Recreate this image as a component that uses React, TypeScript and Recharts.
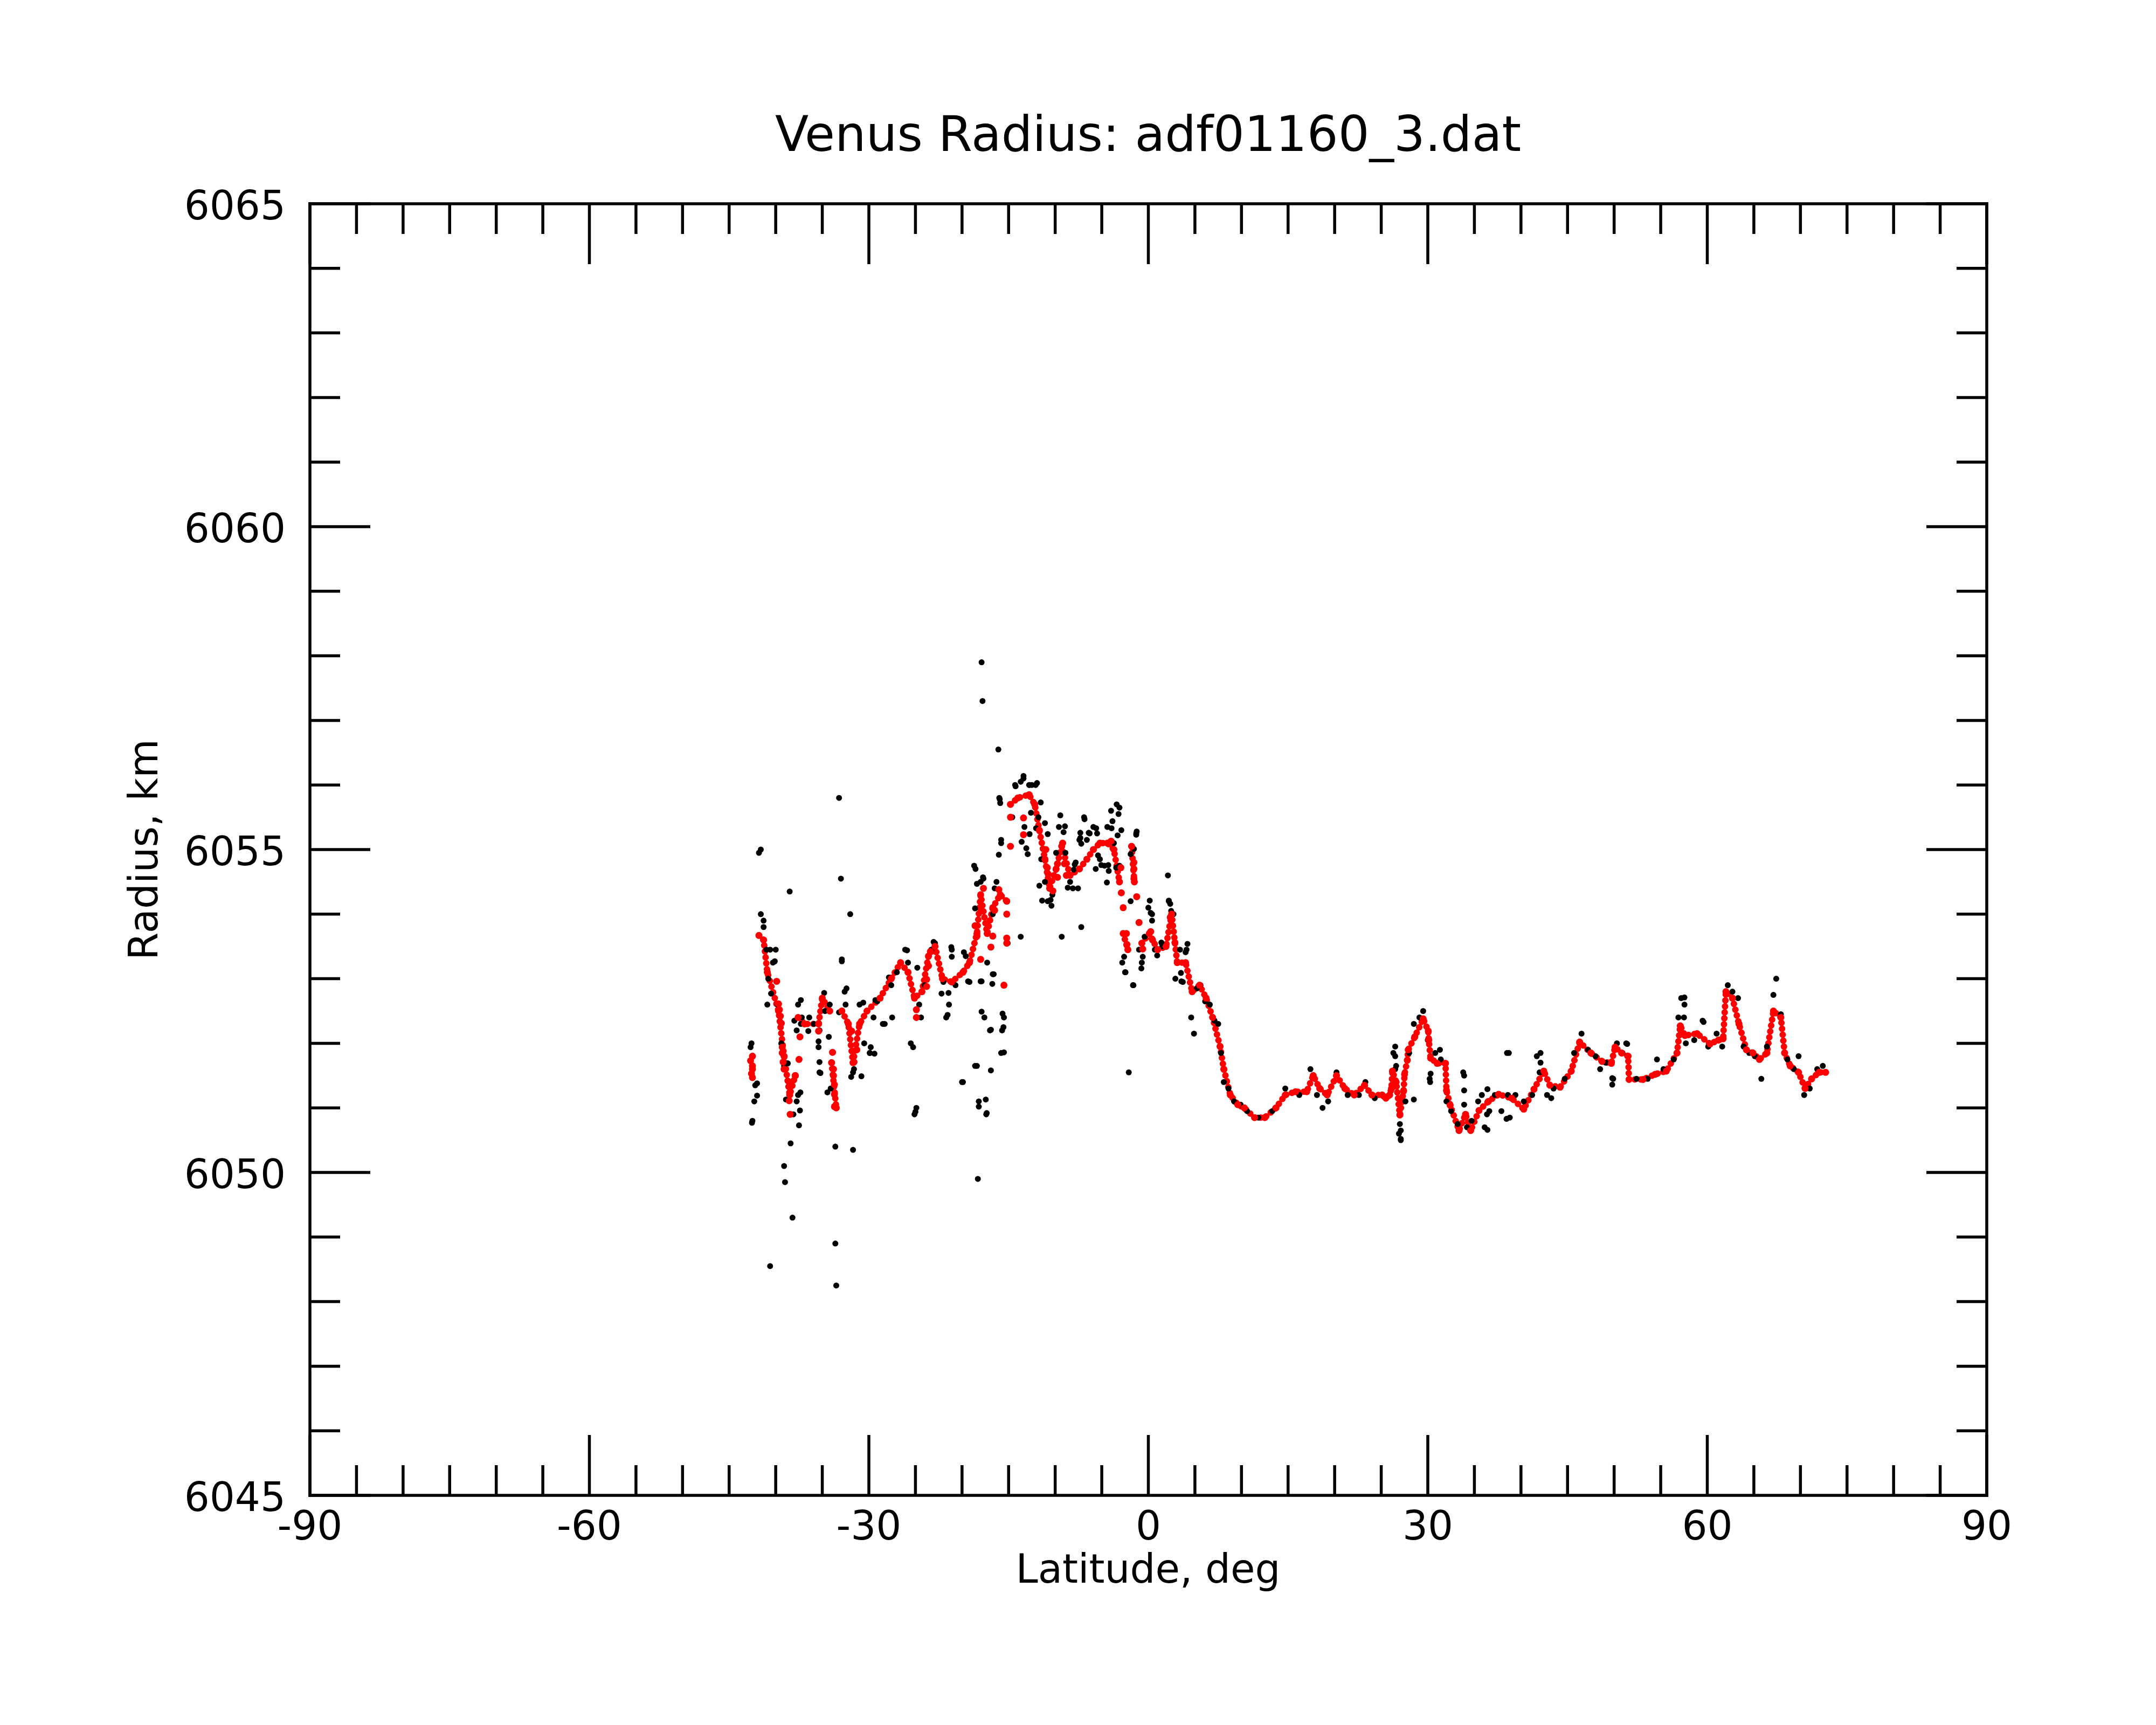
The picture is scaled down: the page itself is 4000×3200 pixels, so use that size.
import { ComposedChart, Line, Scatter, XAxis, YAxis } from "recharts";

const TITLE = "Venus Radius: adf01160_3.dat";
const X_LABEL = "Latitude, deg";
const Y_LABEL = "Radius, km";

const LAT_LABELS = [-90, -60, -30, 0, 30, 60, 90];
const LAT_TICKS = [
  -90, -85, -80, -75, -70, -65, -60, -55, -50, -45, -40, -35, -30, -25, -20, -15, -10, -5, 0,
  5, 10, 15, 20, 25, 30, 35, 40, 45, 50, 55, 60, 65, 70, 75, 80, 85, 90,
];
const R_LABELS = [6045, 6050, 6055, 6060, 6065];
const R_TICKS = [
  6045, 6046, 6047, 6048, 6049, 6050, 6051, 6052, 6053, 6054, 6055, 6056, 6057, 6058, 6059,
  6060, 6061, 6062, 6063, 6064, 6065,
];

// raw radius samples, black: [latitude, radius]
const RAW_POINTS: [number, number][] = [
  [-42.6, 6052.0], [-42.5, 6050.8], [-42.3, 6051.1], [-42.2, 6051.35], [-41.8, 6054.95],
  [-41.6, 6055.0], [-41.6, 6054.0], [-41.3, 6053.9], [-41.0, 6053.45], [-40.6, 6053.45],
  [-40.3, 6053.25], [-40.0, 6053.45], [-40.6, 6048.55], [-39.8, 6052.6], [-39.4, 6052.0],
  [-39.1, 6051.65], [-39.1, 6050.1], [-39.0, 6049.85], [-38.5, 6054.35], [-38.4, 6050.45],
  [-38.2, 6049.3], [-38.1, 6050.9], [-37.6, 6051.2], [-37.3, 6052.3], [-37.6, 6052.6],
  [-37.2, 6052.4], [-36.4, 6052.4], [-35.9, 6052.3], [-35.3, 6052.2], [-35.3, 6051.55],
  [-35.0, 6052.7], [-34.7, 6052.5], [-34.3, 6052.1], [-34.1, 6051.3], [-33.6, 6050.4],
  [-33.6, 6048.9], [-33.5, 6048.25], [-33.2, 6055.8], [-33.0, 6054.55], [-32.9, 6053.3],
  [-32.6, 6052.8], [-32.5, 6052.6], [-32.0, 6054.0], [-31.7, 6050.35], [-31.7, 6051.55],
  [-31.0, 6052.6], [-30.5, 6052.0], [-29.9, 6051.85], [-29.5, 6052.4], [-29.1, 6052.65],
  [-28.5, 6052.3], [-27.6, 6052.9], [-27.0, 6053.1], [-26.1, 6053.45], [-25.8, 6053.25],
  [-25.5, 6052.0], [-25.1, 6050.9], [-24.9, 6051.0], [-24.6, 6052.6], [-24.0, 6052.9],
  [-23.3, 6053.45], [-22.9, 6053.55], [-22.0, 6052.95], [-21.7, 6052.4], [-21.4, 6052.6],
  [-21.1, 6053.45], [-20.7, 6052.9], [-19.9, 6051.4], [-19.6, 6053.35], [-19.2, 6052.95],
  [-18.7, 6054.75], [-18.4, 6051.65], [-18.3, 6049.9], [-18.2, 6051.1], [-18.0, 6054.5],
  [-17.9, 6057.9], [-17.8, 6057.3], [-17.6, 6052.4], [-17.4, 6050.9], [-17.3, 6053.25],
  [-17.0, 6052.2], [-16.7, 6054.0], [-16.3, 6054.5], [-16.1, 6056.55], [-16.0, 6055.8],
  [-15.8, 6055.15], [-15.8, 6051.85], [-15.7, 6052.2], [-15.5, 6052.4], [-15.1, 6053.55],
  [-14.6, 6055.5], [-14.3, 6056.0], [-13.7, 6056.05], [-13.7, 6053.65], [-13.4, 6056.1],
  [-13.3, 6055.35], [-12.8, 6056.0], [-12.5, 6056.0], [-12.1, 6056.0], [-11.8, 6055.5],
  [-11.5, 6054.85], [-11.1, 6054.5], [-10.8, 6054.2], [-10.3, 6054.3], [-9.9, 6054.95],
  [-9.6, 6055.35], [-9.3, 6053.65], [-8.9, 6054.95], [-8.4, 6054.5], [-7.8, 6054.8],
  [-7.4, 6055.15], [-7.2, 6053.8], [-6.9, 6055.5], [-6.6, 6055.15], [-6.3, 6055.25],
  [-5.9, 6055.35], [-5.5, 6055.25], [-5.2, 6054.85], [-4.7, 6054.75], [-4.4, 6055.35],
  [-4.0, 6055.6], [-3.7, 6055.1], [-3.4, 6055.7], [-3.1, 6054.75], [-2.8, 6053.25],
  [-2.5, 6053.1], [-2.1, 6051.55], [-1.9, 6054.2], [-1.6, 6052.9], [-1.3, 6055.25],
  [-1.0, 6053.45], [-0.7, 6053.25], [-0.4, 6053.65], [0.0, 6054.1], [0.4, 6054.0],
  [0.7, 6053.45], [1.5, 6053.5], [2.1, 6054.6], [2.2, 6054.2], [2.7, 6054.0], [2.9, 6053.0],
  [3.4, 6053.45], [3.7, 6052.95], [4.1, 6053.45], [4.6, 6052.4], [4.9, 6052.15], [5.2, 6052.85],
  [5.6, 6052.9], [6.1, 6052.65], [6.6, 6052.6], [7.1, 6052.35], [7.5, 6052.3], [7.8, 6051.85],
  [8.1, 6051.4], [8.6, 6051.3], [9.2, 6051.1], [9.9, 6051.05], [10.6, 6050.95], [11.8, 6050.85],
  [13.3, 6050.95], [14.7, 6051.3], [16.2, 6051.2], [17.4, 6051.6], [18.1, 6051.2], [18.7, 6051.0],
  [19.3, 6051.1], [20.2, 6051.55], [21.4, 6051.2], [22.6, 6051.2], [23.3, 6051.4], [24.3, 6051.15],
  [25.5, 6051.15], [26.3, 6051.85], [26.6, 6051.65], [26.9, 6050.6], [27.1, 6050.5], [27.6, 6051.1],
  [28.0, 6051.85], [28.5, 6052.3], [29.1, 6052.4], [29.5, 6052.5], [30.0, 6052.05], [30.2, 6051.45],
  [30.8, 6051.85], [31.4, 6051.75], [32.0, 6051.1], [32.5, 6050.95], [33.2, 6050.75], [33.8, 6051.55],
  [34.2, 6050.7], [34.7, 6050.8], [35.4, 6051.1], [35.8, 6051.2], [36.1, 6050.7], [36.6, 6050.95],
  [37.2, 6051.2], [37.9, 6050.95], [38.5, 6051.85], [38.8, 6050.85], [39.4, 6051.2], [40.3, 6051.1],
  [41.2, 6051.2], [41.7, 6051.8], [42.0, 6051.55], [42.8, 6051.2], [43.5, 6051.3], [44.7, 6051.45],
  [45.7, 6051.85], [46.5, 6052.15], [47.2, 6051.9], [48.0, 6051.8], [49.1, 6051.7], [49.9, 6051.45],
  [50.3, 6052.0], [50.9, 6051.85], [51.3, 6052.0], [52.4, 6051.45], [53.6, 6051.45], [54.6, 6051.75],
  [55.3, 6051.6], [56.4, 6051.75], [56.9, 6052.4], [57.2, 6052.7], [57.7, 6052.0], [58.6, 6052.05],
  [59.5, 6052.35], [60.1, 6051.95], [61.0, 6052.15], [61.6, 6051.95], [62.2, 6052.9], [62.7, 6052.8],
  [63.3, 6052.7], [63.9, 6051.95], [64.5, 6051.85], [65.1, 6051.8], [65.8, 6051.45], [66.4, 6051.95],
  [67.1, 6052.75], [67.4, 6053.0], [67.9, 6052.45], [68.6, 6051.75], [69.3, 6051.6], [69.8, 6051.8],
  [70.4, 6051.2], [71.0, 6051.3], [71.8, 6051.6], [72.4, 6051.65],
];

// more raw samples read from close-ups
const RAW_EXTRA: [number, number][] = [
  [-41.3, 6053.8], [-40.1, 6053.27], [-40.8, 6053.0], [-40.5, 6052.77], [-40.9, 6052.6],
  [-37.3, 6052.67], [-32.9, 6053.27], [-32.4, 6052.85], [-34.8, 6052.78], [-34.2, 6052.6],
  [-33.2, 6052.48], [-38.0, 6052.35], [-37.75, 6052.2], [-36.5, 6052.19], [-35.4, 6052.03],
  [-35.4, 6051.94], [-35.3, 6051.71], [-35.2, 6051.54], [-34.45, 6051.24], [-42.7, 6051.94],
  [-42.0, 6051.38], [-42.0, 6051.19], [-42.55, 6050.77], [-38.7, 6051.69], [-37.35, 6051.24],
  [-37.75, 6051.1], [-37.4, 6050.96], [-37.5, 6050.73], [-38.9, 6051.13], [-31.9, 6051.48],
  [-30.8, 6051.49], [-29.8, 6051.94], [-29.4, 6051.84], [-29.9, 6051.85], [-31.6, 6051.6],
  [-30.6, 6052.63], [-29.3, 6052.67], [-28.3, 6052.3], [-27.5, 6052.4], [-27.85, 6053.02],
  [-25.9, 6053.44], [-24.8, 6053.17], [-25.25, 6051.94], [-25.0, 6050.94], [-24.4, 6052.4],
  [-23.05, 6053.57], [-21.15, 6053.49], [-21.1, 6053.34], [-22.2, 6052.77], [-21.45, 6052.78],
  [-21.55, 6052.44], [-19.8, 6053.41], [-19.35, 6052.96], [-17.9, 6052.96], [-16.7, 6053.07],
  [-16.75, 6052.92], [-17.9, 6052.49], [-16.9, 6052.21], [-15.65, 6052.46], [-15.55, 6052.25],
  [-15.5, 6051.86], [-18.6, 6051.65], [-16.9, 6051.58], [-20.0, 6051.4], [-17.45, 6051.13],
  [-18.2, 6051.02], [-17.35, 6050.92], [-18.6, 6054.09], [-17.7, 6054.55], [-11.4, 6054.21],
  [-10.4, 6054.13], [-8.1, 6054.4], [-13.4, 6056.14], [-14.25, 6055.98], [-12.75, 6056.0],
  [-11.95, 6056.03], [-15.95, 6055.78], [-15.9, 6055.72], [-11.55, 6055.73], [-12.6, 6055.57],
  [-9.45, 6055.53], [-11.1, 6055.41], [-12.05, 6055.33], [-12.75, 6055.24], [-10.8, 6055.24],
  [-8.95, 6055.36], [-9.1, 6055.27], [-13.6, 6055.12], [-13.1, 6055.02], [-12.95, 6054.93],
  [-15.8, 6055.1], [-16.05, 6054.92], [-6.85, 6055.47], [-5.6, 6055.33], [-7.3, 6055.26],
  [-6.4, 6055.26], [-7.3, 6055.18], [-7.2, 6055.09], [-3.1, 6055.65], [-3.2, 6055.55],
  [-3.85, 6055.44], [-3.95, 6055.33], [-2.9, 6055.3], [-3.3, 6055.22], [-1.25, 6055.28],
  [-1.3, 6055.23], [-1.55, 6055.01], [-1.9, 6054.93], [-5.4, 6054.91], [-5.65, 6054.7],
  [-5.05, 6054.76], [-4.3, 6054.76], [-4.25, 6054.67], [-3.45, 6054.72], [-7.9, 6054.77],
  [-8.0, 6054.69], [-4.45, 6054.49], [-8.65, 6054.41], [-7.55, 6054.4], [-11.7, 6054.44],
  [-10.5, 6054.22], [-18.55, 6054.7], [-17.75, 6054.57], [-18.4, 6054.47], [-16.5, 6054.4],
  [-15.15, 6054.2], [0.15, 6054.21], [2.2, 6054.21], [2.35, 6054.16], [0.25, 6054.02],
  [0.4, 6053.9], [2.45, 6054.05], [-2.6, 6053.34], [-2.45, 6053.1], [-1.65, 6052.9],
  [-0.6, 6053.34], [-0.75, 6053.16], [4.2, 6053.54], [4.0, 6053.41], [3.5, 6053.09],
  [3.55, 6052.96], [1.4, 6053.56], [0.95, 6053.36], [-16.6, 6053.07], [-18.0, 6052.96],
  [26.5, 6051.95], [26.5, 6051.8], [26.5, 6051.6], [27.1, 6050.52], [27.1, 6050.65],
  [27.0, 6050.75], [28.5, 6051.13], [30.25, 6051.4], [30.3, 6051.53], [31.3, 6051.9],
  [33.9, 6051.5], [33.9, 6051.27], [33.9, 6051.05], [36.4, 6051.29], [36.4, 6050.66],
  [36.35, 6050.9], [38.7, 6051.85], [38.45, 6050.83], [38.6, 6051.2], [42.1, 6051.85],
  [42.1, 6051.7], [43.25, 6051.15], [49.8, 6051.46], [49.8, 6051.36], [51.4, 6051.99],
  [57.55, 6052.71], [57.55, 6052.6], [57.5, 6052.4], [59.6, 6052.33], [48.5, 6051.6],
];

// smoothed radius, red: [latitude, radius]
const SMOOTH_POINTS: [number, number][] = [
  [-42.5, 6051.65], [-41.8, 6053.67], [-41.3, 6053.6], [-40.9, 6053.1], [-39.7, 6052.5],
  [-39.1, 6051.8], [-38.5, 6051.2], [-37.9, 6051.5], [-37.6, 6052.4], [-36.9, 6052.3],
  [-35.4, 6052.3], [-35.0, 6052.7], [-34.2, 6052.5], [-34.0, 6051.7], [-33.5, 6051.0],
  [-32.9, 6052.5], [-32.2, 6052.3], [-31.7, 6051.7], [-31.0, 6052.3], [-30.2, 6052.5],
  [-28.8, 6052.7], [-27.6, 6053.0], [-26.6, 6053.25], [-25.8, 6053.1], [-25.1, 6052.7],
  [-24.3, 6052.8], [-23.6, 6053.35], [-22.9, 6053.5], [-22.1, 6053.0], [-21.1, 6052.95],
  [-19.9, 6053.1], [-19.2, 6053.25], [-18.4, 6053.7], [-18.0, 6054.3], [-17.3, 6053.7],
  [-16.7, 6054.1], [-15.9, 6054.3], [-15.2, 6054.2], [-14.8, 6055.7], [-14.0, 6055.8],
  [-12.8, 6055.85], [-12.2, 6055.7], [-11.7, 6055.3], [-11.1, 6054.85], [-10.6, 6054.4],
  [-9.9, 6054.7], [-9.3, 6055.05], [-8.4, 6054.6], [-7.4, 6054.7], [-6.6, 6054.85],
  [-5.9, 6055.0], [-5.2, 6055.1], [-4.4, 6055.1], [-3.7, 6055.0], [-3.1, 6054.5],
  [-2.7, 6053.7], [-2.2, 6053.45], [-1.8, 6055.05], [-1.5, 6054.5], [-0.7, 6053.55],
  [0.1, 6053.7], [1.0, 6053.45], [1.9, 6053.5], [2.5, 6054.0], [3.1, 6053.25], [4.0, 6053.25],
  [4.7, 6052.8], [5.5, 6052.9], [6.2, 6052.7], [6.9, 6052.4], [7.7, 6051.95], [8.1, 6051.6],
  [8.8, 6051.2], [9.6, 6051.05], [10.3, 6051.0], [11.4, 6050.85], [12.5, 6050.85], [13.7, 6051.0],
  [14.7, 6051.2], [15.8, 6051.25], [17.0, 6051.25], [17.7, 6051.5], [18.4, 6051.3], [19.2, 6051.2],
  [20.2, 6051.5], [21.1, 6051.3], [22.1, 6051.2], [23.2, 6051.35], [24.0, 6051.2], [25.1, 6051.2],
  [25.5, 6051.15], [25.9, 6051.2], [26.1, 6051.3], [26.2, 6051.57], [26.6, 6051.4], [27.0, 6050.89],
  [27.4, 6051.26], [27.5, 6051.52], [27.8, 6051.74], [27.9, 6051.9], [28.6, 6052.1], [29.5, 6052.38],
  [30.05, 6052.19], [30.1, 6052.05], [30.3, 6051.77], [31.0, 6051.69], [31.9, 6051.69], [32.0, 6051.27],
  [32.4, 6051.04], [33.35, 6050.65], [34.05, 6050.9], [34.6, 6050.65], [35.5, 6050.96], [36.5, 6051.1],
  [37.6, 6051.21], [39.0, 6051.15], [40.3, 6050.98], [41.4, 6051.29], [42.45, 6051.57], [43.1, 6051.35],
  [44.2, 6051.32], [45.4, 6051.57], [46.3, 6052.02], [47.5, 6051.85], [48.7, 6051.72], [49.7, 6051.69],
  [50.1, 6051.94], [50.8, 6051.85], [51.5, 6051.8], [51.6, 6051.44], [53.1, 6051.44], [54.4, 6051.52],
  [55.6, 6051.57], [56.75, 6051.85], [57.1, 6052.27], [57.6, 6052.12], [58.9, 6052.15], [60.3, 6051.99],
  [61.2, 6052.05], [61.7, 6052.07], [62.0, 6052.8], [62.7, 6052.7], [63.4, 6052.3], [64.2, 6051.9],
  [64.9, 6051.85], [65.6, 6051.75], [66.4, 6051.85], [67.1, 6052.5], [67.9, 6052.4], [68.3, 6051.85],
  [68.9, 6051.65], [69.8, 6051.55], [70.5, 6051.3], [71.2, 6051.45], [72.0, 6051.55], [72.7, 6051.55],
];

// red samples that sit off the main smoothed track
const SMOOTH_EXTRA: [number, number][] = [
  [-42.7, 6051.73], [-42.5, 6051.8], [-42.5, 6051.6], [-42.6, 6051.53], [-42.5, 6051.47],
  [-39.9, 6052.96], [-39.7, 6052.61], [-39.6, 6052.52], [-39.5, 6052.42], [-39.4, 6052.31],
  [-39.3, 6051.94], [-39.3, 6051.85], [-39.2, 6051.71], [-39.1, 6051.6], [-38.55, 6051.4],
  [-38.55, 6051.11], [-38.45, 6050.9], [-37.9, 6051.5], [-37.5, 6051.75], [-37.4, 6052.1],
  [-35.4, 6052.19], [-33.9, 6051.86], [-33.8, 6051.6], [-33.8, 6051.5], [-33.7, 6051.36],
  [-33.7, 6051.21], [-33.7, 6051.02], [-31.85, 6052.19], [-31.3, 6051.9], [-31.6, 6051.71],
  [-24.9, 6052.4], [-24.9, 6052.52], [-23.8, 6052.99], [-23.8, 6052.88], [-23.6, 6053.2],
  [-23.4, 6053.42], [-18.6, 6053.82], [-18.4, 6053.66], [-18.0, 6053.3], [-17.7, 6054.4],
  [-16.9, 6053.49], [-16.7, 6053.66], [-16.5, 6054.06], [-16.05, 6054.38], [-15.5, 6052.9],
  [-15.2, 6053.63], [-15.2, 6053.55], [-15.2, 6054.0], [-14.8, 6055.5], [-14.8, 6055.05],
  [-13.4, 6055.49], [-13.4, 6055.23], [-11.0, 6055.0], [-10.85, 6054.72], [-10.75, 6054.62],
  [-10.25, 6054.36], [-9.75, 6054.78], [-9.75, 6054.57], [-9.2, 6055.1], [-9.0, 6054.78],
  [-8.8, 6054.6], [-4.0, 6055.13], [-2.95, 6054.72], [-2.9, 6054.33], [-2.7, 6054.1],
  [-2.35, 6053.7], [-2.3, 6053.53], [-1.55, 6054.8], [-1.55, 6054.7], [-1.55, 6054.55],
  [-1.25, 6054.27], [-1.0, 6053.87], [-0.6, 6053.46], [0.25, 6053.73], [0.45, 6053.6],
  [2.35, 6053.95], [2.85, 6053.56],
];

// the red track is left open across the steepest jumps, where the reference shows separate dots
const JUMP_KM = 0.75;

const toRow = ([lat, r]: [number, number]) => ({ lat, r });
const rawData = [...RAW_POINTS, ...RAW_EXTRA].map(toRow);
const redDotsData = [...SMOOTH_POINTS, ...SMOOTH_EXTRA].map(toRow);
const smoothData: { lat: number; r: number | null }[] = [];
SMOOTH_POINTS.forEach(([lat, r], i) => {
  const prev = SMOOTH_POINTS[i - 1];
  if (prev && Math.abs(r - prev[1]) > JUMP_KM) smoothData.push({ lat: prev[0], r: null });
  smoothData.push({ lat, r });
});

const FONT = "DejaVu Sans";
const TICK_FONT = 74;
const AXIS_W = 5.5;
const MAJOR_LEN = 112;
const MINOR_LEN = 56;

function BottomTick({ x, y, payload }: any) {
  const major = LAT_LABELS.includes(payload.value);
  return (
    <g>
      <line x1={x} x2={x} y1={y} y2={y - (major ? MAJOR_LEN : MINOR_LEN)} stroke="#000" strokeWidth={AXIS_W} />
      {major && (
        <text x={x} y={y + 82} textAnchor="middle" fontSize={TICK_FONT} fontFamily={FONT} fill="#000">
          {payload.value}
        </text>
      )}
    </g>
  );
}

function TopTick({ x, y, payload }: any) {
  const major = LAT_LABELS.includes(payload.value);
  return <line x1={x} x2={x} y1={y} y2={y + (major ? MAJOR_LEN : MINOR_LEN)} stroke="#000" strokeWidth={AXIS_W} />;
}

function LeftTick({ x, y, payload }: any) {
  const major = R_LABELS.includes(payload.value);
  return (
    <g>
      <line x1={x} x2={x + (major ? MAJOR_LEN : MINOR_LEN)} y1={y} y2={y} stroke="#000" strokeWidth={AXIS_W} />
      {major && (
        <text x={x - 45} y={y + 29} textAnchor="end" fontSize={TICK_FONT} fontFamily={FONT} fill="#000">
          {payload.value}
        </text>
      )}
    </g>
  );
}

function RightTick({ x, y, payload }: any) {
  const major = R_LABELS.includes(payload.value);
  return <line x1={x} x2={x - (major ? MAJOR_LEN : MINOR_LEN)} y1={y} y2={y} stroke="#000" strokeWidth={AXIS_W} />;
}

const blackDot = (p: any) => <circle cx={p.cx} cy={p.cy} r={5.5} fill="#000" />;
const redDot = (p: any) => <circle cx={p.cx} cy={p.cy} r={6.5} fill="#ff0000" />;

export default function App() {
  const axisLine = { stroke: "#000", strokeWidth: AXIS_W, strokeLinecap: "square" as const };
  return (
    <div style={{ position: "relative", width: 4000, height: 3200, background: "#fff" }}>
      <style>{"body{margin:0}"}</style>
      <ComposedChart width={4000} height={3200} margin={{ top: 377, right: 313, bottom: 425, left: 574 }}>
        <XAxis
          xAxisId="b"
          dataKey="lat"
          type="number"
          domain={[-90, 90]}
          ticks={LAT_TICKS}
          interval={0}
          height={1}
          tickSize={0}
          tickMargin={0}
          tickLine={false}
          axisLine={axisLine}
          tick={BottomTick}
          allowDataOverflow
        />
        <XAxis
          xAxisId="t"
          orientation="top"
          dataKey="lat"
          type="number"
          domain={[-90, 90]}
          ticks={LAT_TICKS}
          interval={0}
          height={1}
          tickSize={0}
          tickMargin={0}
          tickLine={false}
          axisLine={axisLine}
          tick={TopTick}
          allowDataOverflow
        />
        <YAxis
          yAxisId="l"
          dataKey="r"
          type="number"
          domain={[6045, 6065]}
          ticks={R_TICKS}
          interval={0}
          width={1}
          tickSize={0}
          tickMargin={0}
          tickLine={false}
          axisLine={axisLine}
          tick={LeftTick}
          allowDataOverflow
        />
        <YAxis
          yAxisId="r"
          orientation="right"
          dataKey="r"
          type="number"
          domain={[6045, 6065]}
          ticks={R_TICKS}
          interval={0}
          width={1}
          tickSize={0}
          tickMargin={0}
          tickLine={false}
          axisLine={axisLine}
          tick={RightTick}
          allowDataOverflow
        />
        <Scatter xAxisId="b" yAxisId="l" data={rawData} dataKey="r" shape={blackDot} isAnimationActive={false} />
        <Line
          xAxisId="b"
          yAxisId="l"
          data={smoothData}
          dataKey="r"
          type="linear"
          stroke="#ff0000"
          strokeWidth={12}
          strokeDasharray="0.1 11"
          strokeLinecap="round"
          connectNulls={false}
          dot={false}
          activeDot={false}
          isAnimationActive={false}
        />
        <Scatter xAxisId="t" yAxisId="r" data={redDotsData} dataKey="r" shape={redDot} isAnimationActive={false} />
      </ComposedChart>
      <svg width={4000} height={3200} style={{ position: "absolute", left: 0, top: 0, pointerEvents: "none" }}>
        <text x={2130} y={280} textAnchor="middle" fontSize={91} fontFamily={FONT} fill="#000">
          {TITLE}
        </text>
        <text x={2130} y={2936} textAnchor="middle" fontSize={TICK_FONT} fontFamily={FONT} fill="#000">
          {X_LABEL}
        </text>
        <text
          x={292}
          y={1576}
          transform="rotate(-90 292 1576)"
          textAnchor="middle"
          fontSize={TICK_FONT}
          fontFamily={FONT}
          fill="#000"
        >
          {Y_LABEL}
        </text>
      </svg>
    </div>
  );
}
